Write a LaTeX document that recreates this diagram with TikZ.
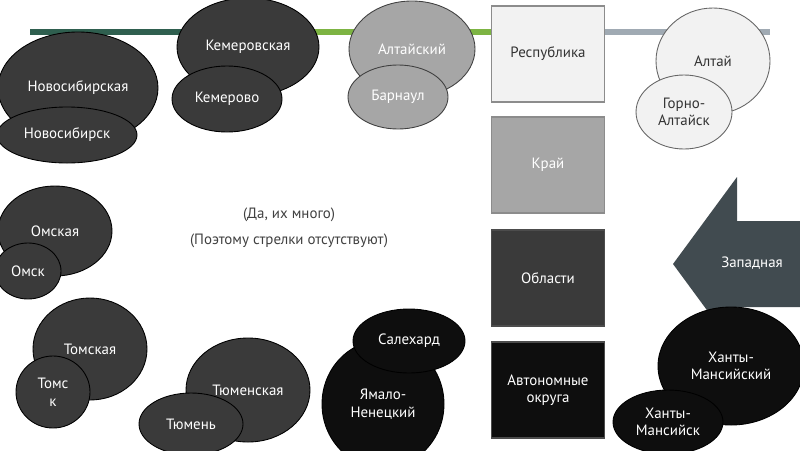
\documentclass[tikz,border=0pt]{standalone}
\usepackage{fontspec}
\setmainfont{PT Sans}
\usetikzlibrary{shapes.geometric,positioning}
\definecolor{darkgray}{HTML}{3A3A3A}
\definecolor{midgray}{HTML}{A6A6A6}
\definecolor{palegray}{HTML}{F2F2F2}
\definecolor{nearblack}{HTML}{0E0E0E}
\definecolor{deepgreen}{HTML}{2F5F4F}
\definecolor{leafgreen}{HTML}{7DB443}
\definecolor{steelgray}{HTML}{A0AAB3}
\definecolor{slate}{HTML}{414B50}

\begin{document}
\begin{tikzpicture}[x=0.02cm, y=-0.02cm, font=\fontsize{8.5}{10}\selectfont,
    ovalsize/.style 2 args={minimum width=#1*0.02cm, minimum height=#2*0.02cm},
    oval/.style={ellipse, draw=black, line width=0.5pt, inner sep=0pt, align=center, text=white},
    darkoval/.style={oval, fill=darkgray},
    grayoval/.style={oval, fill=midgray, draw=black!75},
    paleoval/.style={oval, fill=palegray, draw=black!60, text=black!80},
    blackoval/.style={oval, fill=nearblack},
    levelbox/.style={rectangle, draw=black!45, line width=0.9pt, minimum width=113*0.02cm, minimum height=96*0.02cm, align=center, text=white}]
    \useasboundingbox (0,0) rectangle (800,450);

    % time line behind everything
    \coordinate (lineA) at (30,32);
    \coordinate (lineB) at (250,32);
    \coordinate (lineC) at (495,32);
    \coordinate (lineD) at (770,32);
    \draw[deepgreen, line width=3.5pt] (lineA) -- (lineB);
    \draw[leafgreen, line width=3.5pt] (lineB) -- (lineC);
    \draw[steelgray, line width=3.5pt] (lineC) -- (lineD);

    % levels
    \node[levelbox, fill=palegray, text=black!80] (rep) at (548,54) {Республика};
    \node[levelbox, fill=midgray] (kraj) at (548,165) {Край};
    \node[levelbox, fill=darkgray, draw=black!70] (obl) at (548,278) {Области};
    \node[levelbox, fill=nearblack, draw=black!70] (ao) at (548,390) {Автономные\\округа};

    % regions and capitals
    \node[darkoval, ovalsize={160}{112}] (nsk) at (78,88) {Новосибирская};
    \node[darkoval, ovalsize={140}{56}] (nskc) at (67,135) {Новосибирск};
    \node[darkoval, ovalsize={142}{98}] (kem) at (248,47) {Кемеровская};
    \node[darkoval, ovalsize={110}{66}] (kemc) at (227,99) {Кемерово};
    \node[grayoval, ovalsize={126}{96}] (alt) at (412,49) {Алтайский};
    \node[grayoval, ovalsize={100}{64}] (altc) at (398,97) {Барнаул};
    \node[paleoval, ovalsize={114}{106}] (ra) at (713,61) {Алтай};
    \node[paleoval, ovalsize={96}{74}] (rac) at (684,112) {Горно-\\Алтайск};
    \node[darkoval, ovalsize={114}{90}] (omsk) at (55,231) {Омская};
    \node[darkoval, ovalsize={66}{56}] (omskc) at (28,271) {Омск};
    \node[darkoval, ovalsize={114}{102}] (tom) at (90,349) {Томская};
    \node[darkoval, ovalsize={74}{72}] (tomc) at (53,392) {Томс\\к};
    \node[darkoval, ovalsize={124}{104}] (tum) at (248,390) {Тюменская};
    \node[darkoval, ovalsize={104}{62}] (tumc) at (191,424) {Тюмень};
    \node[blackoval, ovalsize={122}{128}] (yan) at (383,404) {Ямало-\\Ненецкий};
    \node[blackoval, ovalsize={112}{64}] (yanc) at (409,341) {Салехард};

    % western direction
    \fill[slate] (673,264) -- (737,177) -- (737,221) -- (800,221) -- (800,307)
        -- (737,307) -- (737,351) -- cycle;
    \node[text=white] (west) at (752,263) {Западная};

    \node[blackoval, ovalsize={146}{118}] (hm) at (731,366) {Ханты-\\Мансийский};
    \node[blackoval, ovalsize={110}{64}] (hmc) at (668,422) {Ханты-\\Мансийск};

    % note
    \node[text=black!75] (note1) at (289,215) {(Да, их много)};
    \node[text=black!75] (note2) at (289,241) {(Поэтому стрелки отсутствуют)};
\end{tikzpicture}
\end{document}
